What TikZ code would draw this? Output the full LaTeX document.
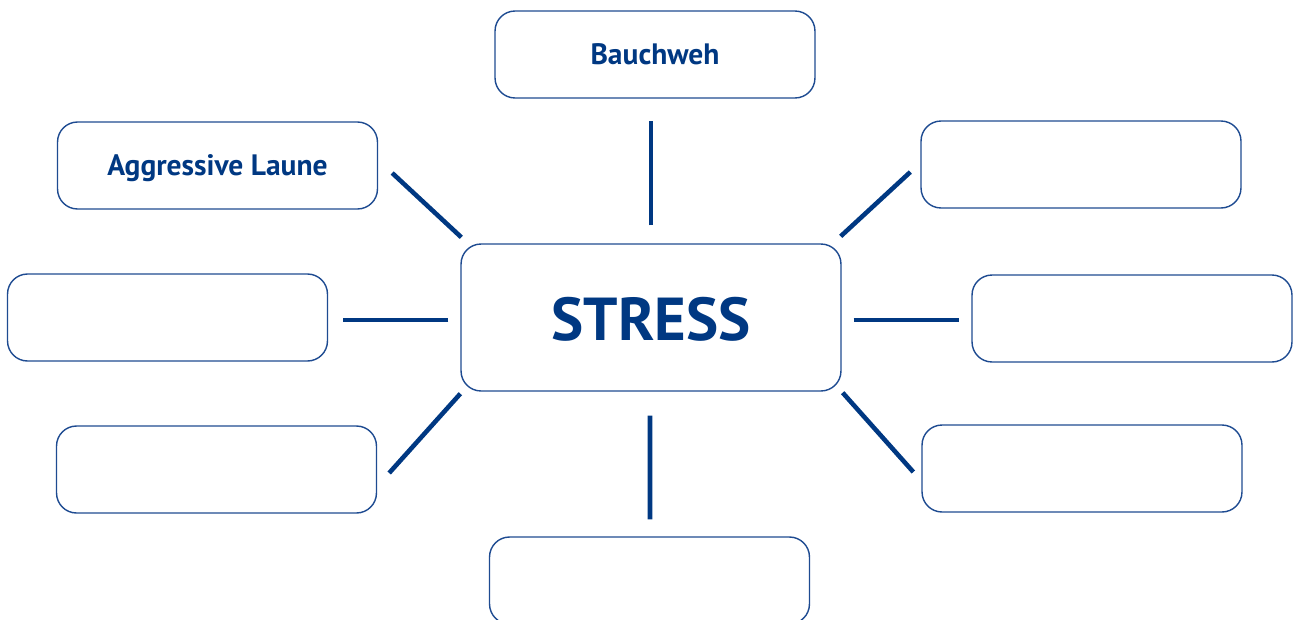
\documentclass[tikz,border=0pt]{standalone}
\usepackage{fontspec}
\setmainfont{PT Sans}
\usepackage{tikz}
\definecolor{stressblue}{RGB}{0,56,130}
\definecolor{boxblue}{RGB}{30,75,145}
\tikzstyle{field} = [rectangle, rounded corners=0.4cm, minimum width=6.4cm, minimum height=1.74cm, inner sep=0pt, text centered, text height=0.38cm, text depth=0pt, draw=boxblue, line width=0.8pt, text=stressblue, font=\bfseries\fontsize{16.8}{20}\selectfont]
\tikzstyle{core} = [field, minimum width=7.6cm, minimum height=2.94cm, text height=0.92cm, font=\bfseries\fontsize{34.5}{41}\selectfont]
\tikzstyle{spoke} = [draw=stressblue, line width=2.6pt]

\begin{document}
\begin{tikzpicture}[x=0.02cm, y=-0.02cm]
\useasboundingbox (0,0) rectangle (1294,619);
\node (stress) [core]  at (651,317.5) {STRESS};
\node (bauch)  [field] at (655,54.5) {Bauchweh};
\node (aggr)   [field] at (217.5,165.5) {Aggressive Laune};
\node (topr)   [field] at (1081,164.5) {};
\node (midl)   [field] at (167.5,317.5) {};
\node (midr)   [field] at (1132,318.5) {};
\node (botl)   [field] at (216.5,469.5) {};
\node (botr)   [field] at (1082,468.5) {};
\node (bot)    [field] at (649.5,580.5) {};

% spokes with a gap at both ends
\draw [spoke] ([shift={(0,-18)}]stress.north) -- ([shift={(-4,22)}]bauch.south);
\draw [spoke] ([shift={(1,-6)}]stress.north west) -- ([shift={(14,7.5)}]aggr.east);
\draw [spoke] ([shift={(-1,-7)}]stress.north east) -- ([shift={(-10,7.5)}]topr.west);
\draw [spoke] ([shift={(-12,2.5)}]stress.west) -- ([shift={(15,2.5)}]midl.east);
\draw [spoke] ([shift={(12,2.5)}]stress.east) -- ([shift={(-12,1.5)}]midr.west);
\draw [spoke] ([shift={(0,2)}]stress.south west) -- ([shift={(12,3.5)}]botl.east);
\draw [spoke] ([shift={(1,1)}]stress.south east) -- ([shift={(-8,3.5)}]botr.west);
\draw [spoke] ([shift={(-1,24)}]stress.south) -- ([shift={(0.5,-17)}]bot.north);
\end{tikzpicture}
\end{document}
